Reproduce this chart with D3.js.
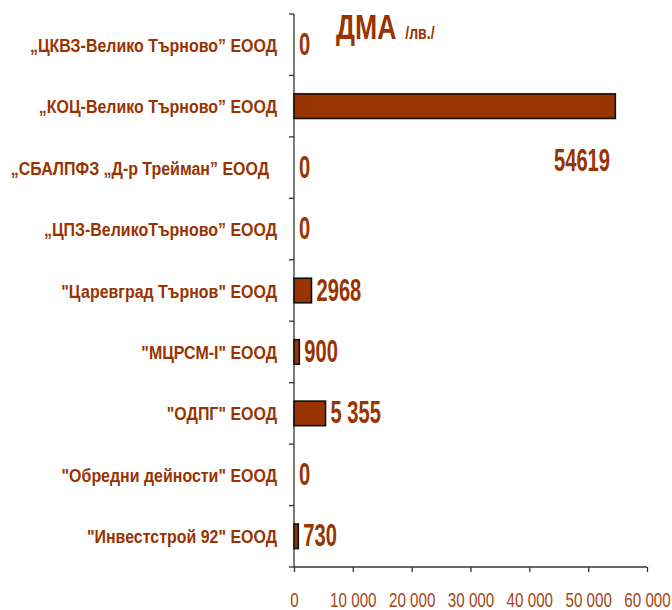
<!DOCTYPE html>
<html lang="bg">
<head>
<meta charset="UTF-8">
<title>ДМА</title>
<script src="https://d3js.org/d3.v7.min.js"></script>
<style>
  body { margin: 0; background: #fff; }
  svg { display: block; }
  text { font-family: "Liberation Sans Narrow", "Arial Narrow", "Liberation Sans", Arial, sans-serif; }
  .cat { font-size: 19px; font-weight: bold; fill: #993300; }
  .val { font-size: 32px; font-weight: bold; fill: #993300; }
  .xt text { font-size: 20px; fill: #a3461a; }
  .axis path, .axis line { stroke: #333; stroke-width: 1.3; }
</style>
</head>
<body>
<svg width="672" height="610"></svg>
<script>
  var categories = [
    "„ЦКВЗ-Велико Търново” ЕООД",
    "„КОЦ-Велико Търново” ЕООД",
    "„СБАЛПФЗ „Д-р Трейман” ЕООД",
    "„ЦПЗ-ВеликоТърново” ЕООД",
    "\"Царевград Търнов\" ЕООД",
    "\"МЦРСМ-I\" ЕООД",
    "\"ОДПГ\" ЕООД",
    "\"Обредни дейности\" ЕООД",
    "\"Инвестстрой 92\" ЕООД"
  ];
  var values = [0, 54619, 0, 0, 2968, 900, 5355, 0, 730];
  var valueLabels = ["0", "54619", "0", "0", "2968", "900", "5 355", "0", "730"];
  var xTicks = [0, 10000, 20000, 30000, 40000, 50000, 60000];

  var svg = d3.select("svg");
  var m = { left: 294, top: 14, right: 647, bottom: 567 };
  // no narrow font installed, so text is squeezed horizontally
  var sqCat = 0.84, sqVal = 0.63, sqTick = 0.76, sqTitle = 0.74;

  var x = d3.scaleLinear().domain([0, 60000]).range([m.left, m.right]);
  var y = d3.scaleBand().domain(categories).range([m.top, m.bottom]).paddingInner(0.6).paddingOuter(0.3);

  // y axis line with ticks between categories
  var band = (m.bottom - m.top) / categories.length;
  var yAxis = svg.append("g").attr("class", "axis");
  yAxis.append("line").attr("x1", m.left).attr("x2", m.left).attr("y1", m.top).attr("y2", m.bottom);
  yAxis.selectAll("line.tk")
    .data(d3.range(categories.length + 1))
    .enter().append("line")
    .attr("class", "tk")
    .attr("x1", m.left - 5).attr("x2", m.left)
    .attr("y1", d => m.top + d * band).attr("y2", d => m.top + d * band);

  // x axis
  var xa = svg.append("g")
    .attr("class", "axis xt")
    .attr("transform", "translate(0," + m.bottom + ")")
    .call(d3.axisBottom(x).tickValues(xTicks).tickSize(5).tickSizeOuter(0)
      .tickFormat(d => d3.format(",")(d).replace(/,/g, " ")));
  xa.select(".domain").attr("d", "M" + m.left + ",0H" + m.right);
  xa.selectAll("text")
    .attr("y", 0).attr("dy", 0)
    .attr("transform", "translate(0,40) scale(" + sqTick + ",1)");

  // category labels
  svg.selectAll("text.cat")
    .data(categories)
    .enter().append("text")
    .attr("class", "cat")
    .attr("transform", (d, i) => "translate(" + (i === 2 ? 269 : 277) + "," + (y(d) + y.bandwidth() / 2 + 7) + ") scale(" + sqCat + ",1)")
    .attr("text-anchor", "end")
    .text(d => d);

  // bars
  svg.selectAll("rect.bar")
    .data(values.map((v, i) => ({ v: v, c: categories[i] })).filter(d => d.v > 0))
    .enter().append("rect")
    .attr("class", "bar")
    .attr("x", x(0))
    .attr("y", d => y(d.c))
    .attr("width", d => x(d.v) - x(0))
    .attr("height", y.bandwidth())
    .attr("fill", "#993300")
    .attr("stroke", "#111")
    .attr("stroke-width", 1.6);

  // value labels
  svg.selectAll("text.val")
    .data(values)
    .enter().append("text")
    .attr("class", "val")
    .attr("transform", (d, i) => {
      var tx = i === 1 ? 582 : x(d) + 5;
      var ty = (i === 1 ? y(categories[i]) + 55 : y(categories[i])) + y.bandwidth() / 2 + 10;
      return "translate(" + tx + "," + ty + ") scale(" + sqVal + ",1)";
    })
    .attr("text-anchor", (d, i) => i === 1 ? "middle" : "start")
    .text((d, i) => valueLabels[i]);

  // title
  var title = svg.append("text")
    .attr("transform", "translate(336,39) scale(" + sqTitle + ",1)")
    .attr("fill", "#993300")
    .attr("font-weight", "bold");
  title.append("tspan").attr("font-size", "36px").text("ДМА");
  title.append("tspan").attr("font-size", "19px").attr("dx", 12).text("/лв./");
</script>
</body>
</html>
